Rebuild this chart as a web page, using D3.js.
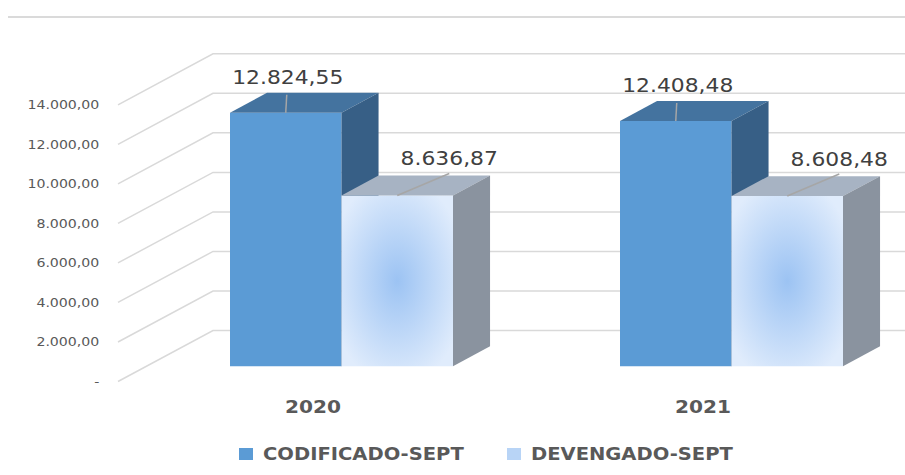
<!DOCTYPE html>
<html>
<head>
<meta charset="utf-8">
<script src="https://cdn.jsdelivr.net/npm/d3@7"></script>
<style>
  body { margin: 0; background: #fff; }
  svg { display: block; font-family: "DejaVu Sans", sans-serif; }
</style>
</head>
<body>
<svg id="chart" width="905" height="475"></svg>
<script>
// data
var categories = ["2020", "2021"];
var seriesNames = ["CODIFICADO-SEPT", "DEVENGADO-SEPT"];
var codificado = [12824.55, 12408.48];
var devengado = [8636.87, 8608.48];
var yTicks = [0, 2000, 4000, 6000, 8000, 10000, 12000, 14000];

var svg = d3.select("#chart");
var SX = 1.15; // text in the source is stretched sideways

var loc = d3.formatLocale({ decimal: ",", thousands: ".", grouping: [3], currency: ["", ""] });
var fmt = loc.format(",.2f");

// front plane scales + fake depth
var x0 = d3.scaleBand().domain(categories).range([118, 898]);
var x1 = d3.scaleBand().domain(seriesNames).range([83.5, 306.5]);
var y = d3.scaleLinear().domain([0, 14000]).range([381.5, 104.8]);
var DX = 95, DY = 51, zF = 0.3, zB = 0.69;

function P(x, v, z) { return [x + DX * z, y(v) - DY * z]; }

var defs = svg.append("defs");
var grad = defs.append("radialGradient").attr("id", "devGrad")
    .attr("cx", 0.5).attr("cy", 0.5).attr("r", 0.62);
grad.append("stop").attr("offset", "0%").attr("stop-color", "#9cc3f3");
grad.append("stop").attr("offset", "100%").attr("stop-color", "#e0ecfc");

// top rule
svg.append("line")
    .attr("x1", 8).attr("x2", 905).attr("y1", 17).attr("y2", 17)
    .attr("stroke", "#dadada").attr("stroke-width", 2);

// grid: diagonal on the side + back wall
svg.append("g").selectAll("path")
    .data(yTicks)
    .enter().append("path")
    .attr("d", function (d) {
        return "M118," + y(d) + "L" + (118 + DX) + "," + (y(d) - DY) + "L905," + (y(d) - DY);
    })
    .attr("fill", "none")
    .attr("stroke", "#d9d9d9")
    .attr("stroke-width", 1.5);

// y axis labels
var yAxis = svg.append("g")
    .attr("transform", "translate(112,0)")
    .call(d3.axisLeft(y).tickValues(yTicks).tickSize(0).tickPadding(11)
        .tickFormat(function (d) { return d === 0 ? "-" : fmt(d); }));
yAxis.select(".domain").remove();
yAxis.selectAll("text")
    .attr("font-family", "DejaVu Sans")
    .attr("font-size", 12.3)
    .attr("fill", "#595959")
    .attr("transform", "scale(" + SX + ",1)");

// bars
var styles = {
    "CODIFICADO-SEPT": { front: "#5b9bd5", top: "#44739f", side: "#375f86" },
    "DEVENGADO-SEPT": { front: "url(#devGrad)", top: "#a7b3c3", side: "#8a939f" }
};
var seriesVals = { "CODIFICADO-SEPT": codificado, "DEVENGADO-SEPT": devengado };

var bars = [];
seriesNames.forEach(function (s) {
    categories.forEach(function (c, i) {
        bars.push({ cat: c, series: s, value: seriesVals[s][i] });
    });
});

var gBars = svg.append("g");
categories.forEach(function (c) {
    seriesNames.forEach(function (s) {
        var d = bars.filter(function (b) { return b.cat === c && b.series === s; })[0];
        var xa = x0(c) + x1(s), xb = xa + x1.bandwidth();
        var st = styles[s];
        var poly = function (pts) { return "M" + pts.map(function (p) { return p.join(","); }).join("L") + "Z"; };
        gBars.append("path")
            .attr("d", poly([P(xa, 0, zF), P(xb, 0, zF), P(xb, d.value, zF), P(xa, d.value, zF)]))
            .attr("fill", st.front);
        gBars.append("path")
            .attr("d", poly([P(xa, d.value, zF), P(xb, d.value, zF), P(xb, d.value, zB), P(xa, d.value, zB)]))
            .attr("fill", st.top);
        gBars.append("path")
            .attr("d", poly([P(xb, 0, zF), P(xb, d.value, zF), P(xb, d.value, zB), P(xb, 0, zB)]))
            .attr("fill", st.side);
    });
});

// data labels with leader lines
var leader = { "CODIFICADO-SEPT": [1, -18, 2, -29], "DEVENGADO-SEPT": [52, -22, 52, -30] };
var gLab = svg.append("g");
bars.forEach(function (d) {
    var xa = x0(d.cat) + x1(d.series);
    var a = P(xa + x1.bandwidth() / 2, d.value, zF);
    var o = leader[d.series];
    gLab.append("line")
        .attr("x1", a[0]).attr("y1", a[1])
        .attr("x2", a[0] + o[0]).attr("y2", a[1] + o[1])
        .attr("stroke", "#a6a6a6").attr("stroke-width", 1.5);
    gLab.append("text")
        .attr("transform", "translate(" + (a[0] + o[2]) + "," + (a[1] + o[3]) + ") scale(" + SX + ",1)")
        .attr("text-anchor", "middle")
        .attr("font-size", 19)
        .attr("fill", "#404040")
        .text(fmt(d.value));
});

// category labels
svg.append("g").selectAll("text")
    .data(categories)
    .enter().append("text")
    .attr("transform", function (d) {
        return "translate(" + (x0(d) + x0.bandwidth() / 2) + ",413) scale(" + SX + ",1)";
    })
    .attr("text-anchor", "middle")
    .attr("font-size", 17.5)
    .attr("font-weight", "bold")
    .attr("fill", "#595959")
    .text(function (d) { return d; });

// legend
var legX = [239, 507];
var legend = svg.append("g").selectAll("g")
    .data(seriesNames)
    .enter().append("g")
    .attr("transform", function (d, i) { return "translate(" + legX[i] + ",448)"; });
legend.append("rect")
    .attr("width", 14).attr("height", 12)
    .attr("fill", function (d, i) { return i === 0 ? "#5b9bd5" : "#b8d4f6"; });
legend.append("text")
    .attr("transform", "translate(24,11.5) scale(" + SX + ",1)")
    .attr("font-size", 17)
    .attr("font-weight", "bold")
    .attr("fill", "#595959")
    .text(function (d) { return d; });
</script>
</body>
</html>
